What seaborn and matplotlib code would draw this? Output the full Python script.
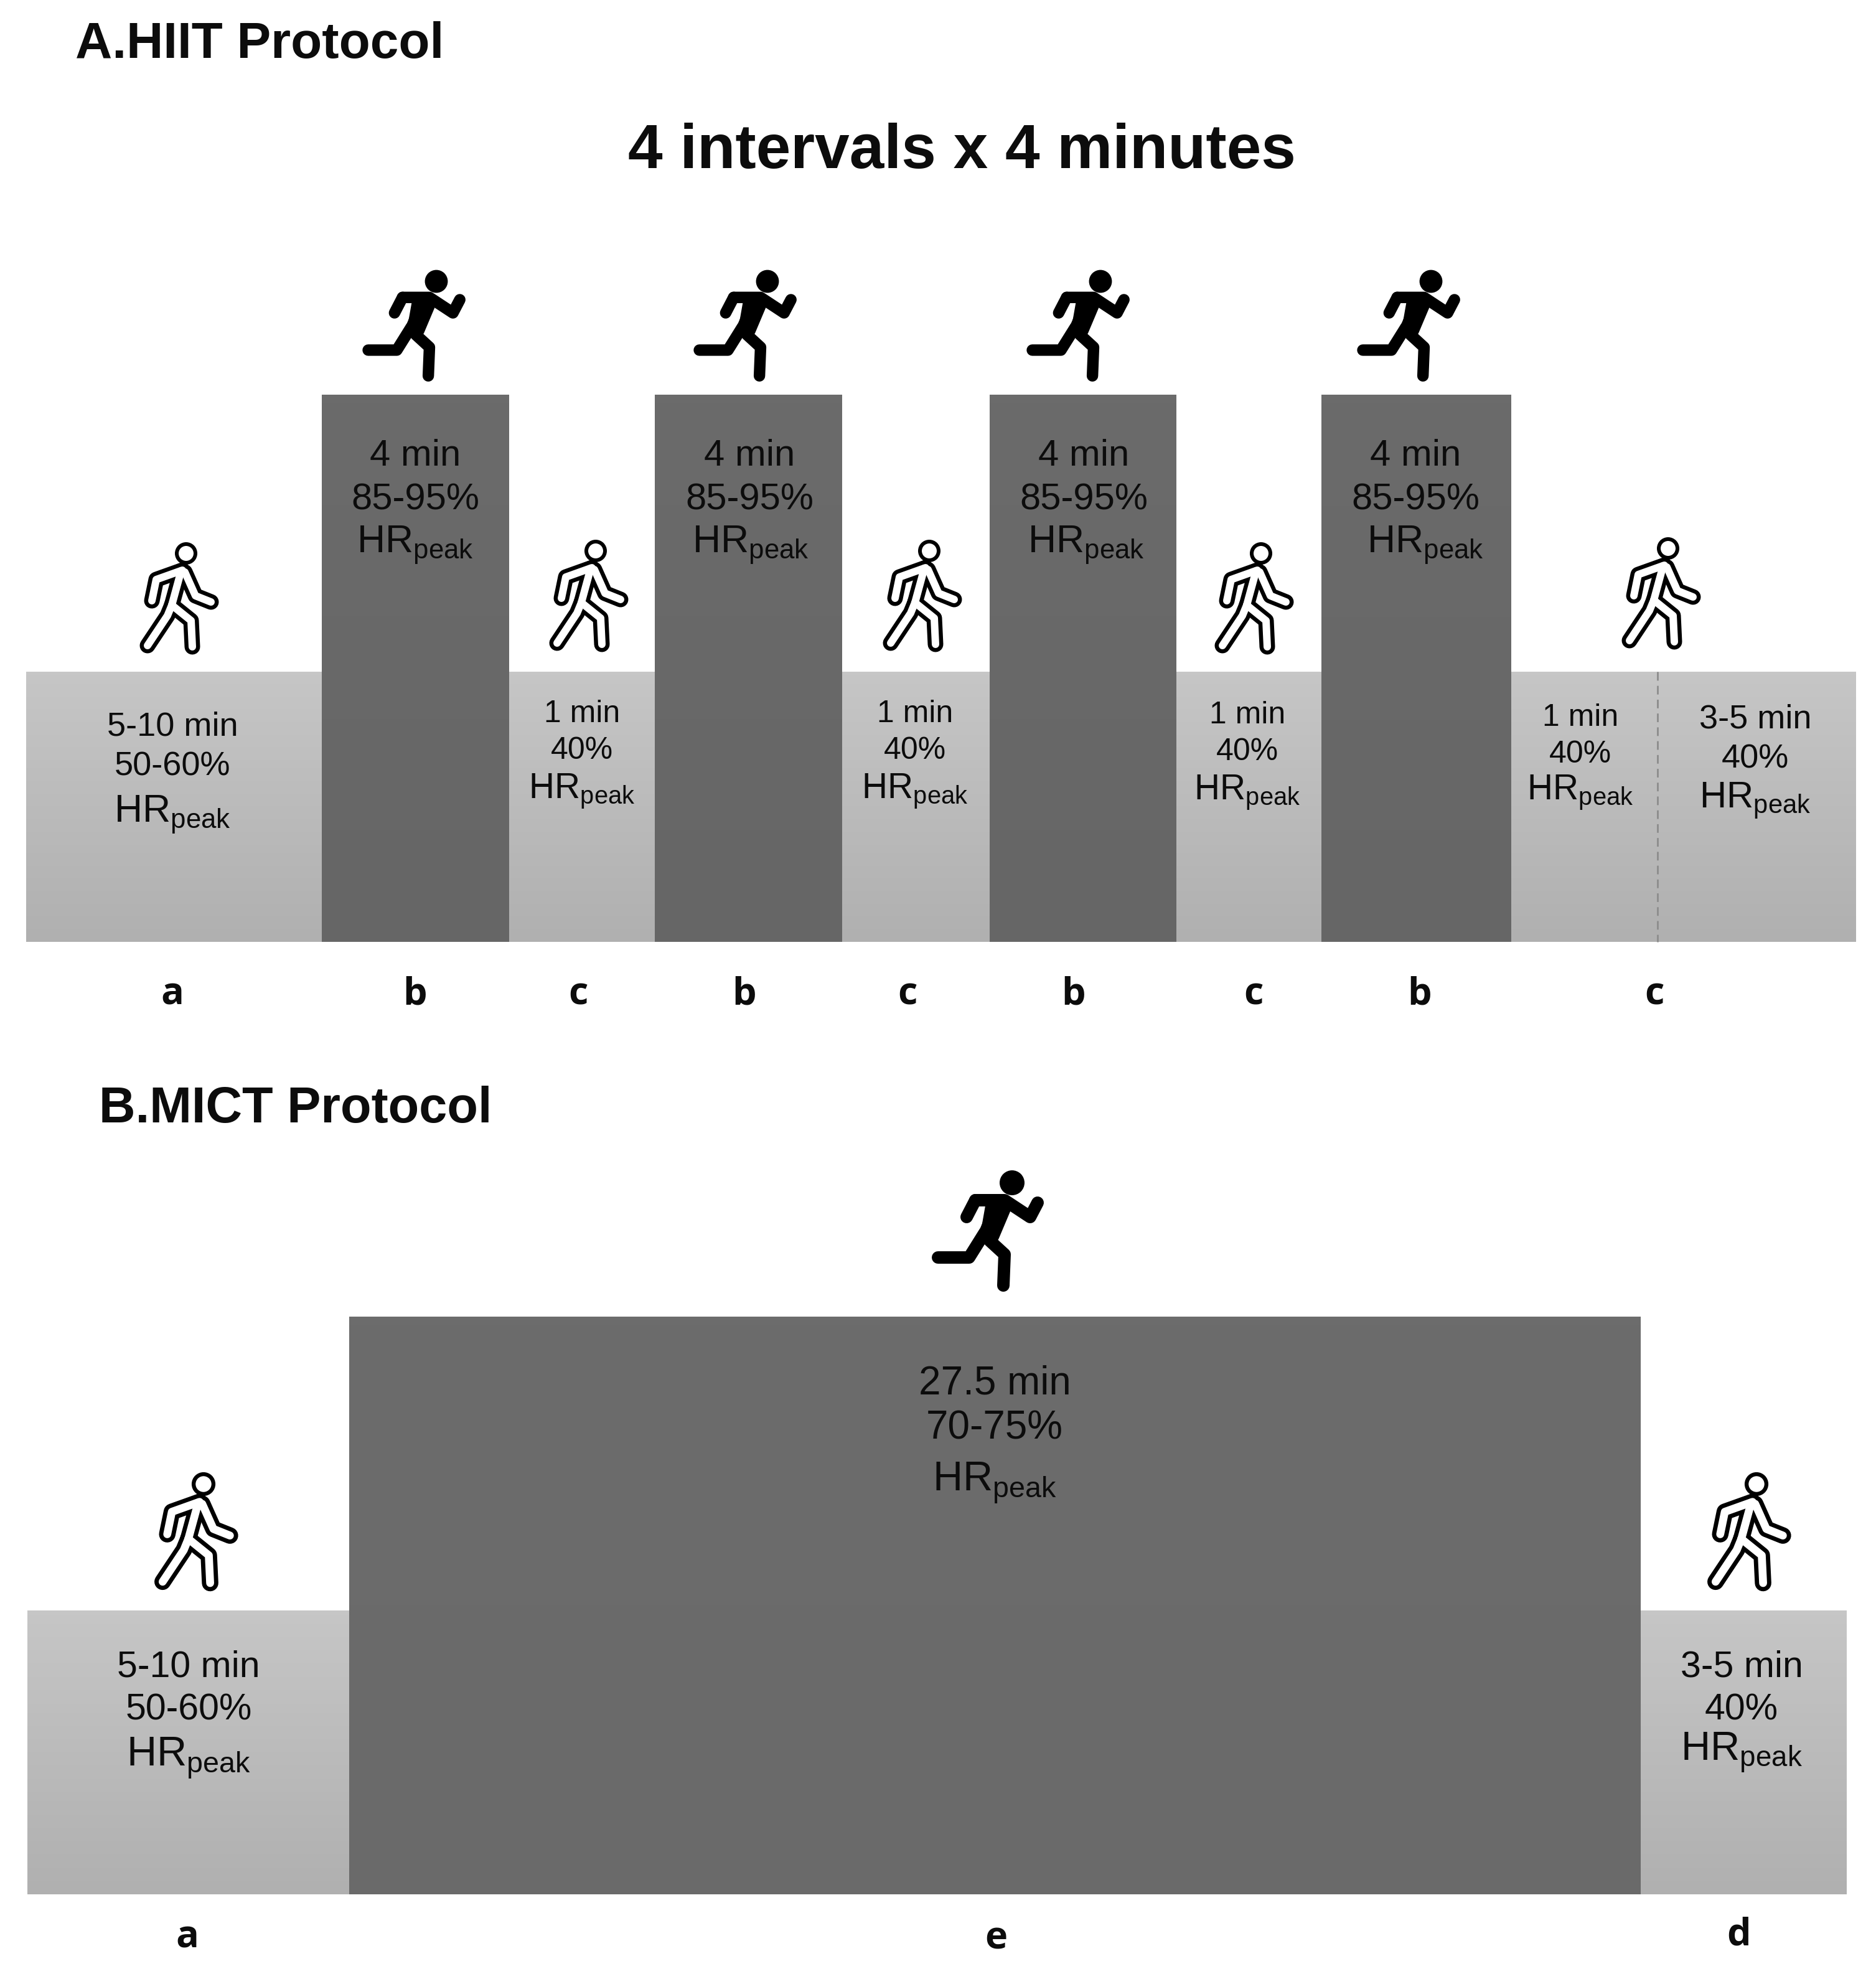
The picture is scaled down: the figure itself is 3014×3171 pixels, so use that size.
import numpy as np
import matplotlib.pyplot as plt
import seaborn as sns

# segment widths and relative heights of the two protocols
hiit_widths = [475, 301, 234, 301, 237, 300, 233, 305, 554]
hiit_heights = [49.4, 100, 49.4, 100, 49.4, 100, 49.4, 100, 49.4]
mict_widths = [517, 2075, 331]
mict_heights = [49.1, 100, 49.1]

hiit_letters = ["a", "b", "c", "b", "c", "b", "c", "b", "c"]
mict_letters = ["a", "e", "d"]

HR = r"HR$_{\mathregular{peak}}$"
warm_lines = ["5-10 min", "50-60%", HR]
work_lines = ["4 min", "85-95%"]
rest_lines = ["1 min", "40%", HR]
cool_lines = ["3-5 min", "40%", HR]
mict_lines = ["27.5 min", "70-75%", HR]

W, H = 3014, 3171

sns.set_theme(style="white")
plt.rcParams["font.family"] = ["Liberation Sans", "DejaVu Sans"]
plt.rcParams["mathtext.fontset"] = "custom"
plt.rcParams["mathtext.rm"] = "Liberation Sans"

fig = plt.figure(figsize=(W / 100, H / 100), dpi=100)


def protocol_axes(widths, heights, left, top, bottom, light, dark):
    """Variable width bars drawn as a weighted histogram, with a soft gradient."""
    ax = fig.add_axes([0, 1 - bottom / H, 1, (bottom - top) / H])
    edges = left + np.concatenate([[0], np.cumsum(widths)])
    mids = (edges[:-1] + edges[1:]) / 2
    sns.histplot(x=mids, weights=heights, bins=edges.tolist(), color="#888888",
                 alpha=1, linewidth=0, ax=ax)
    ax.axis("off")
    grad = np.linspace(1, 0, 64).reshape(-1, 1)
    for p in list(ax.patches):
        x0, h = p.get_x(), p.get_height()
        lo, hi = dark if h > 0.75 * max(heights) else light
        p.set_facecolor(hi)
        im = ax.imshow(grad, extent=[x0, x0 + p.get_width(), 0, h], aspect="auto",
                       cmap=sns.blend_palette([lo, hi], as_cmap=True), vmin=0, vmax=1,
                       zorder=2)
        im.set_clip_path(p)
    ax.set_xlim(0, W)
    ax.set_ylim(0, max(heights))
    return ax


def block(ax, x, ys, lines, size, hr_size=None):
    for y, line in zip(ys, lines):
        fs = hr_size if hr_size and line == HR else size
        ax.text(x, y, line, ha="center", va="center", fontsize=fs, color="#0c0c0c")


def walker(ax, x, y, s=1.0):
    limbs = [
        ([-6, -48, -55], [27, 42, 76]),
        ([-2, 15, 40], [30, 68, 78]),
        ([-8, -23], [28, 83]),
        ([-23, -30, -62], [83, 100, 148]),
        ([-23, 8, 10], [83, 108, 150]),
    ]
    for width, colour in [(25, "black"), (12, "white")]:
        for lx, ly in limbs:
            ax.plot(x + s * np.array(lx), y + s * np.array(ly), color=colour,
                    lw=width * s * 0.72, solid_capstyle="round", solid_joinstyle="round")
    ax.add_patch(plt.Circle((x, y), 15 * s, fc="white", ec="black", lw=6 * s * 0.72))


def runner(ax, x, y, s=1.0):
    limbs = [
        ([-59, -73], [28, 55], 20),
        ([-59, -12, 29, 41], [28, 28, 55, 32], 20),
        ([-18, -37], [38, 83], 34),
        ([-44, -69, -119], [80, 120, 120], 20),
        ([-36, -12, -14], [93, 115, 165], 20),
    ]
    for lx, ly, width in limbs:
        ax.plot(x + s * np.array(lx), y + s * np.array(ly), color="black",
                lw=width * s * 0.72, solid_capstyle="round", solid_joinstyle="round")
    body = np.array([[-40, 20], [-8, 20], [-2, 38], [-26, 92], [-52, 88]])
    ax.fill(x + s * body[:, 0], y + s * body[:, 1], color="black", lw=0)
    ax.add_patch(plt.Circle((x, y), 20 * s, fc="black", ec="none"))


protocol_axes(hiit_widths, hiit_heights, 42, 634, 1513,
              ("#b0b0b0", "#c6c6c6"), ("#666666", "#6b6b6b"))
protocol_axes(mict_widths, mict_heights, 44, 2115, 3043,
              ("#b0b0b0", "#c6c6c6"), ("#6a6a6a", "#6c6c6c"))

# full figure overlay in pixel coordinates for the text and the icons
top = fig.add_axes([0, 0, 1, 1], zorder=5)
top.set_xlim(0, W)
top.set_ylim(H, 0)
top.axis("off")
top.patch.set_alpha(0)

top.text(121, 72, "A.HIIT Protocol", fontsize=59, fontweight="bold", va="center", color="#0c0c0c")
top.text(159, 1782, "B.MICT Protocol", fontsize=58.5, fontweight="bold", va="center", color="#0c0c0c")
top.text(1545, 244, "4 intervals x 4 minutes", fontsize=72, fontweight="bold",
         ha="center", va="center", color="#0c0c0c")

block(top, 277, [1168, 1232, 1309], warm_lines, 39, 45)
for x, hx in zip([667, 1204, 1741, 2274], [667, 1206, 1745, 2290]):
    block(top, x, [732, 803], work_lines, 43)
    block(top, hx, [876], [HR], 45)
block(top, 935, [1147, 1206, 1271], rest_lines, 36, 41)
block(top, 1470, [1147, 1206, 1271], rest_lines, 36, 41)
block(top, 2004, [1149, 1208, 1273], rest_lines, 36, 41)
block(top, 2539, [1153, 1212, 1273], rest_lines, 36, 41)
block(top, 2820, [1155, 1220, 1287], cool_lines, 39, 43)
block(top, 303, [2678, 2747, 2824], warm_lines, 42.5, 48)
block(top, 1598, [2222, 2295, 2382], mict_lines, 46, 48)
block(top, 2798, [2678, 2747, 2816], cool_lines, 42.5, 47)

top.plot([2663, 2663], [1079, 1513], color="#8c8c8c", lw=2, ls=(0, (5, 3)))

for x, letter in zip([277, 667, 929, 1196, 1458, 1725, 2014, 2281, 2658], hiit_letters):
    top.text(x, 1598, letter, fontsize=44, fontweight="bold", family="Open Sans",
             ha="center", va="center", color="#0c0c0c")
for x, y, letter in zip([301, 1600, 2794], [3113, 3115, 3109], mict_letters):
    top.text(x, y, letter, fontsize=44, fontweight="bold", family="Open Sans",
             ha="center", va="center", color="#0c0c0c")

for x in [701, 1233, 1768, 2299]:
    runner(top, x, 452, 0.92)
runner(top, 1626, 1900)
for x, y in [(299, 889), (957, 885), (1493, 885), (2026, 889), (2680, 881)]:
    walker(top, x, y)
walker(top, 327, 2384, 1.06)
walker(top, 2822, 2384, 1.06)

fig.savefig("out.png", dpi=100)
